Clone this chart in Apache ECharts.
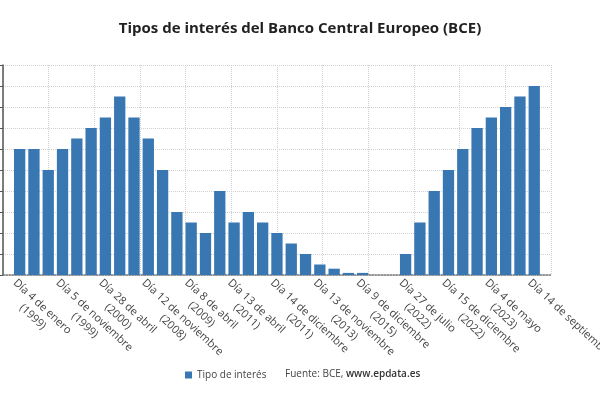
<!DOCTYPE html>
<html>
<head>
<meta charset="utf-8">
<script src="https://cdn.jsdelivr.net/npm/echarts@6/dist/echarts.min.js"></script>
<style>
  html, body { margin: 0; padding: 0; background: #fff; }
  #chart { width: 600px; height: 400px; }
</style>
</head>
<body>
<div id="chart"></div>
<script>
// fechas de cada decisión (solo se rotula una de cada tres)
var fechas = [
    'Día 4 de enero\n(1999)', 'Día 22 de enero\n(1999)', 'Día 9 de abril\n(1999)',
    'Día 5 de noviembre\n(1999)', 'Día 4 de febrero\n(2000)', 'Día 17 de marzo\n(2000)',
    'Día 28 de abril\n(2000)', 'Día 9 de junio\n(2000)', 'Día 15 de octubre\n(2008)',
    'Día 12 de noviembre\n(2008)', 'Día 10 de diciembre\n(2008)', 'Día 11 de marzo\n(2009)',
    'Día 8 de abril\n(2009)', 'Día 13 de mayo\n(2009)', 'Día 21 de enero\n(2011)',
    'Día 13 de abril\n(2011)', 'Día 13 de julio\n(2011)', 'Día 9 de noviembre\n(2011)',
    'Día 14 de diciembre\n(2011)', 'Día 11 de julio\n(2012)', 'Día 8 de mayo\n(2013)',
    'Día 13 de noviembre\n(2013)', 'Día 11 de junio\n(2014)', 'Día 10 de septiembre\n(2014)',
    'Día 9 de diciembre\n(2015)', 'Día 16 de marzo\n(2016)', 'Día 1 de julio\n(2022)',
    'Día 27 de julio\n(2022)', 'Día 14 de septiembre\n(2022)', 'Día 2 de noviembre\n(2022)',
    'Día 15 de diciembre\n(2022)', 'Día 8 de febrero\n(2023)', 'Día 22 de marzo\n(2023)',
    'Día 4 de mayo\n(2023)', 'Día 21 de junio\n(2023)', 'Día 2 de agosto\n(2023)',
    'Día 14 de septiembre'
];

var tipos = [
    3, 3, 2.5, 3, 3.25, 3.5, 3.75, 4.25, 3.75, 3.25,
    2.5, 1.5, 1.25, 1, 2, 1.25, 1.5, 1.25, 1, 0.75,
    0.5, 0.25, 0.15, 0.05, 0.05, 0, 0,
    0.5, 1.25, 2, 2.5, 3, 3.5, 3.75, 4, 4.25, 4.5
];

var yMin = 0, yMax = 5, yStep = 0.5;

var fuente = 'Open Sans, sans-serif';

function formatLabel(v){
    var parts = v.split('\n');
    if (parts.length < 2) return '{a|' + parts[0] + '}';
    return '{a|' + parts[0] + '}\n{b|' + parts[1] + '}';
}

var option = {
    animation: false,
    textStyle: { fontFamily: fuente },
    title: {
        text: 'Tipos de interés del Banco Central Europeo (BCE)',
        left: 'center',
        top: 16,
        textStyle: { fontFamily: fuente, fontSize: 15, fontWeight: 'bold', color: '#222' }
    },
    legend: {
        left: 180,
        top: 365,
        itemWidth: 7,
        itemHeight: 7,
        icon: 'rect',
        textStyle: { fontFamily: fuente, fontSize: 10, color: '#444' },
        data: ['Tipo de interés']
    },
    graphic: [{
        type: 'text',
        left: 285,
        top: 369,
        style: {
            text: '{n|Fuente: BCE, }{w|www.epdata.es}',
            rich: {
                n: { fontFamily: fuente, fontSize: 10, fill: '#444' },
                w: { fontFamily: fuente, fontSize: 10, fill: '#333', fontWeight: 600 }
            }
        }
    }],
    grid: [
        { left: 3, right: 49, top: 65, bottom: 125, outerBoundsMode: 'none' },
        { left: 12.5, right: 58.6, top: 65, bottom: 125, outerBoundsMode: 'none' }
    ],
    xAxis: [
        {
            // fondo: rejilla vertical y línea del eje
            type: 'value',
            gridIndex: 0,
            min: 0,
            max: 12,
            interval: 1,
            axisLabel: { show: false },
            axisTick: { show: false },
            axisLine: { show: true, lineStyle: { color: '#777', type: 'dotted', width: 1.5 } },
            splitLine: { show: true, lineStyle: { color: '#d0d0d0', type: 'dotted' } }
        },
        {
            type: 'category',
            gridIndex: 1,
            data: fechas,
            axisLine: { show: false },
            axisTick: { show: false },
            axisLabel: {
                interval: 2,
                rotate: -43,
                margin: 1,
                verticalAlign: 'top',
                hideOverlap: false,
                formatter: formatLabel,
                rich: {
                    a: { fontFamily: fuente, fontSize: 11, color: '#444', lineHeight: 14 },
                    b: { fontFamily: fuente, fontSize: 11, color: '#444', lineHeight: 14, align: 'center' }
                }
            }
        }
    ],
    yAxis: [
        {
            type: 'value',
            gridIndex: 0,
            min: yMin,
            max: yMax,
            interval: yStep,
            axisLabel: { show: false },
            axisTick: { show: true, length: 3, lineStyle: { color: '#555' } },
            axisLine: { show: true, lineStyle: { color: '#555', width: 1.5 } },
            splitLine: { show: true, lineStyle: { color: '#d0d0d0', type: 'dotted' } }
        },
        {
            type: 'value',
            gridIndex: 1,
            min: yMin,
            max: yMax,
            interval: yStep,
            show: false,
            splitLine: { show: false }
        }
    ],
    series: [{
        name: 'Tipo de interés',
        type: 'bar',
        xAxisIndex: 1,
        yAxisIndex: 1,
        barCategoryGap: '21%',
        itemStyle: { color: '#3877b2' },
        data: tipos
    }]
};

var myChart = echarts.init(document.getElementById('chart'));
myChart.setOption(option);
</script>
</body>
</html>
